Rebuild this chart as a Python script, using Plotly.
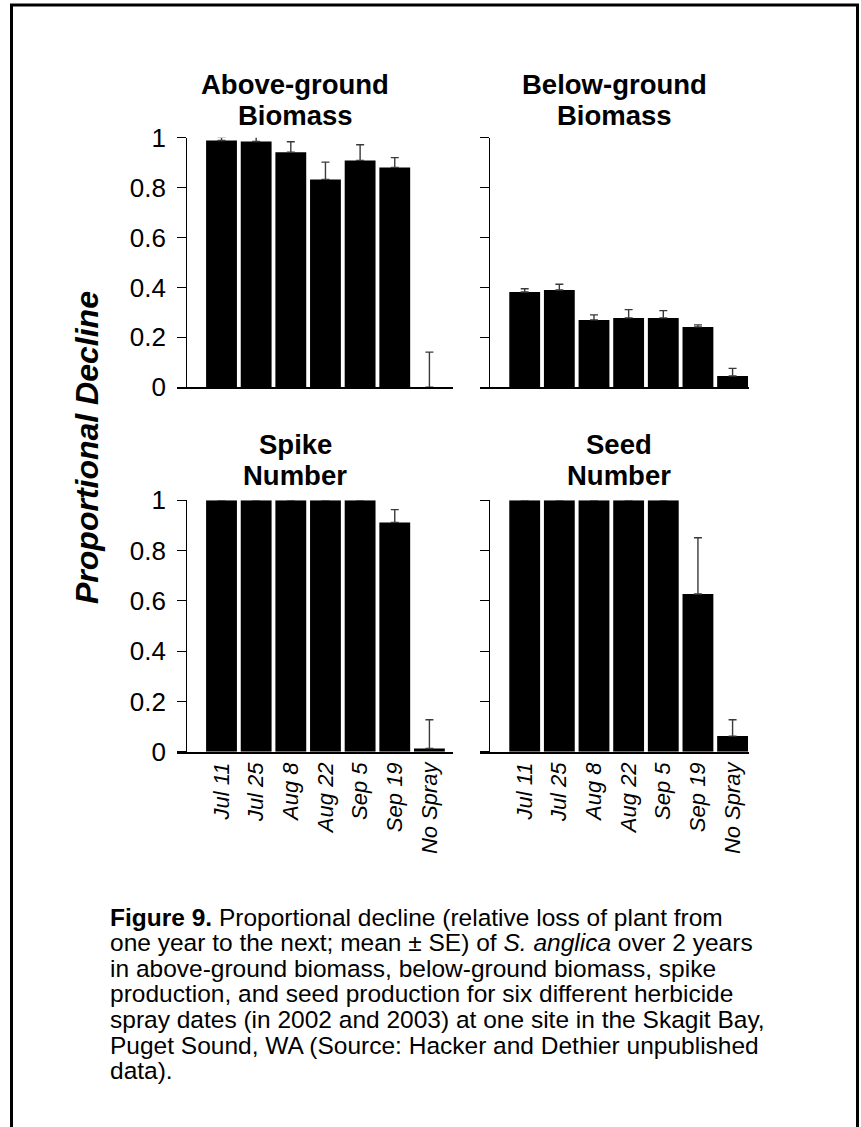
import plotly.graph_objects as go

# ---- data -------------------------------------------------------------
spray_dates = ["Jul 11", "Jul 25", "Aug 8", "Aug 22", "Sep 5", "Sep 19", "No Spray"]

above_mean = [0.989, 0.985, 0.942, 0.833, 0.909, 0.881, 0.0]
above_se = [0.013, 0.024, 0.042, 0.069, 0.063, 0.039, 0.141]

below_mean = [0.382, 0.390, 0.270, 0.278, 0.278, 0.242, 0.045]
below_se = [0.013, 0.023, 0.020, 0.033, 0.029, 0.008, 0.031]

spike_mean = [1.0, 1.0, 1.0, 1.0, 1.0, 0.912, 0.013]
spike_se = [0.0, 0.0, 0.0, 0.0, 0.0, 0.051, 0.114]

seed_mean = [1.0, 1.0, 1.0, 1.0, 1.0, 0.627, 0.062]
seed_se = [0.0, 0.0, 0.0, 0.0, 0.0, 0.224, 0.065]

panel_titles = [["Above-ground", "Biomass"], ["Below-ground", "Biomass"],
                ["Spike", "Number"], ["Seed", "Number"]]
y_ticks = [0, 0.2, 0.4, 0.6, 0.8, 1]
y_tick_text = ["0", "0.2", "0.4", "0.6", "0.8", "1"]

caption_lines = [
    "<b>Figure 9.</b> Proportional decline (relative loss of plant from",
    "one year to the next; mean ± SE) of <i>S. anglica</i> over 2 years",
    "in above-ground biomass, below-ground biomass, spike",
    "production, and seed production for six different herbicide",
    "spray dates (in 2002 and 2003) at one site in the Skagit Bay,",
    "Puget Sound, WA (Source: Hacker and Dethier unpublished",
    "data).",
]

# ---- page geometry (pixels) -------------------------------------------
W, H = 861, 1127
FONT = "Liberation Sans, Arial, Helvetica, sans-serif"


def fx(px):
    return px / W


def fy(py):
    return 1 - py / H


# each panel: x-line start, y-axis x, x-line end, y of value 1, y of value 0, x range
panels = [
    dict(x0=177.3, yx=185.7, x1=452.7, ytop=137.7, ybot=387.3, xr=[-1.276, 6.672], labels=True, xt=False),
    dict(x0=480.0, yx=489.0, x1=748.7, ytop=137.7, ybot=387.3, xr=[-1.290, 6.465], labels=False, xt=False),
    dict(x0=177.3, yx=185.7, x1=452.7, ytop=500.3, ybot=751.7, xr=[-1.276, 6.672], labels=True, xt=True),
    dict(x0=480.0, yx=489.0, x1=748.7, ytop=500.3, ybot=751.7, xr=[-1.290, 6.465], labels=False, xt=True),
]
series = [(above_mean, above_se), (below_mean, below_se),
          (spike_mean, spike_se), (seed_mean, seed_se)]
title_cx = [295, 614, 295, 619]
title_cy = [[85, 115], [85, 115], [445, 475], [445, 475]]

fig = go.Figure()
layout = dict(
    width=W, height=H,
    margin=dict(l=0, r=0, t=0, b=0, autoexpand=False),
    paper_bgcolor="white", plot_bgcolor="white",
    showlegend=False,
    bargap=0.1,
    font=dict(family=FONT, color="black"),
)

annotations = []
for i, (p, (mean, se)) in enumerate(zip(panels, series)):
    n = "" if i == 0 else str(i + 1)
    fig.add_trace(go.Bar(
        x=list(range(len(spray_dates))), y=mean,
        width=0.89,
        marker=dict(color="black", line=dict(width=0)),
        error_y=dict(type="data", symmetric=False,
                     array=[e if e > 0 else None for e in se],
                     arrayminus=[0] * len(se),
                     color="#3a3a3a", thickness=1.4, width=4),
        xaxis="x" + n, yaxis="y" + n,
    ))
    layout["xaxis" + n] = dict(
        domain=[fx(p["x0"]), fx(p["x1"])], anchor="y" + n,
        range=p["xr"], showgrid=False, zeroline=False, automargin=False,
        showline=True, linecolor="black", linewidth=1.8,
        ticks="", tickmode="array",
        tickvals=list(range(len(spray_dates))),
        ticktext=[f"<i>{d}</i>" for d in spray_dates] if p["xt"] else [""] * 7,
        tickangle=-90, tickfont=dict(size=22, family=FONT),
        showticklabels=p["xt"],
    )
    layout["yaxis" + n] = dict(
        domain=[fy(p["ybot"]), fy(p["ytop"])], anchor="free",
        position=fx(p["yx"]), range=[0, 1], automargin=False,
        showgrid=False, zeroline=False,
        showline=True, linecolor="black", linewidth=1.2,
        ticks="outside", ticklen=8.5, tickwidth=1.2, tickcolor="black",
        tickmode="array", tickvals=y_ticks, ticktext=y_tick_text,
        showticklabels=p["labels"], tickfont=dict(size=26, family=FONT),
        ticklabelstandoff=6,
    )
    for line, cy in zip(panel_titles[i], title_cy[i]):
        annotations.append(dict(
            text=f"<b>{line}</b>", x=fx(title_cx[i]), y=fy(cy),
            xref="paper", yref="paper", xanchor="center", yanchor="middle",
            showarrow=False, font=dict(size=27.5, family=FONT, color="black"),
        ))

# shared y-axis title
annotations.append(dict(
    text="<b><i>Proportional Decline</i></b>", x=fx(87), y=fy(448),
    xref="paper", yref="paper", xanchor="center", yanchor="middle",
    textangle=-90, showarrow=False,
    font=dict(size=32, family=FONT, color="black"),
))

# figure caption, set solid with tight leading
for k, line in enumerate(caption_lines):
    annotations.append(dict(
        text=line, x=fx(108), y=fy(917 + 25.6 * k),
        xref="paper", yref="paper", xanchor="left", yanchor="middle",
        showarrow=False, font=dict(size=24.5, family=FONT, color="black"),
    ))

layout["annotations"] = annotations
layout["shapes"] = [dict(
    type="rect", xref="paper", yref="paper",
    x0=fx(11.5), x1=fx(857.5), y0=fy(1160), y1=fy(5),
    line=dict(color="black", width=3), fillcolor="rgba(0,0,0,0)",
)]

fig.update_layout(**layout)
fig.write_html("out.html")
